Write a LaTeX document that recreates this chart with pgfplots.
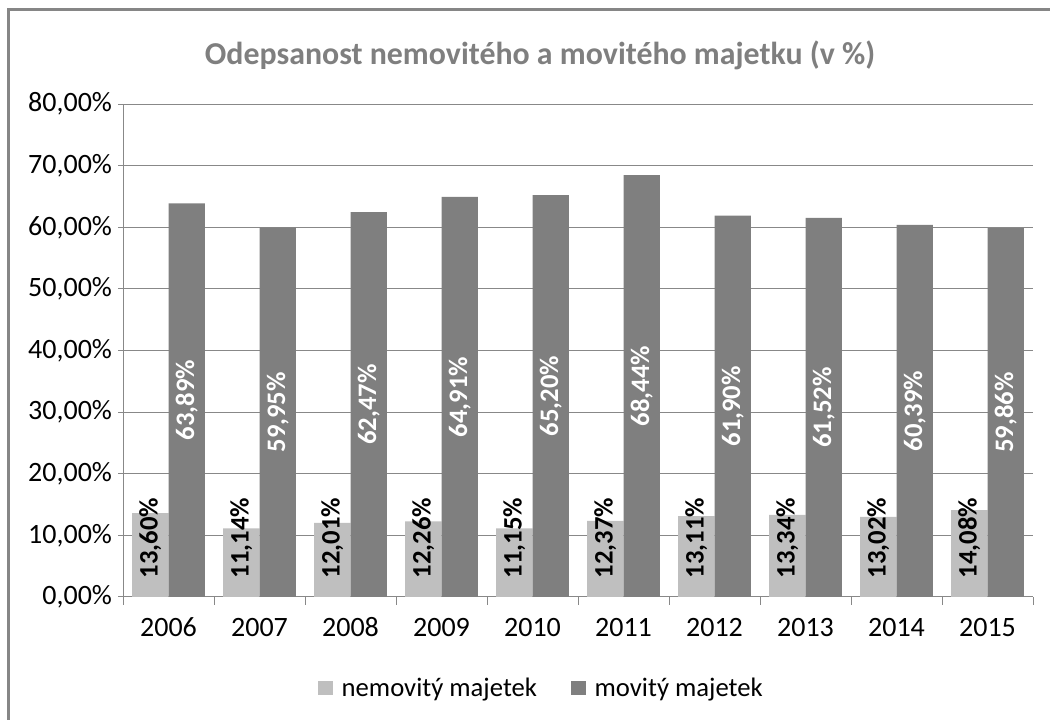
\documentclass[border=0pt]{standalone}
\usepackage{fontspec}
\setmainfont{Carlito}
\usepackage{pgfplots}
\pgfplotsset{compat=1.18}
\usepackage{pgfplotstable}
\definecolor{lightbar}{HTML}{BFBFBF}
\definecolor{darkbar}{HTML}{7F7F7F}
\definecolor{gridc}{HTML}{888888}
\definecolor{titlec}{HTML}{7F7F7F}
\definecolor{framec}{HTML}{868686}

\pgfplotstableread{
x n m
0 13.60 63.89
1 11.14 59.95
2 12.01 62.47
3 12.26 64.91
4 11.15 65.20
5 12.37 68.44
6 13.11 61.90
7 13.34 61.52
8 13.02 60.39
9 14.08 59.86
}\data

\newcommand{\chartfont}{\fontsize{21}{25}\selectfont}
\newcommand{\legendfont}{\fontsize{20}{24}\selectfont}
\newcommand{\labelfont}{\fontsize{20}{24}\selectfont\bfseries}

\begin{document}
\begin{tikzpicture}[x=0.75pt,y=0.75pt]
\useasboundingbox (0,0) rectangle (1050,720);
\draw[framec, line width=2.25pt] (8.5,-20) -- (8.5,710) -- (1080,710);
\node[font=\fontsize{23.9}{28}\selectfont\bfseries, text=titlec] at (540,665) {Odepsanost nemovitého a movitého majetku (v~\%)};
\begin{axis}[
  at={(92.25pt,92.25pt)}, anchor=south west,
  scale only axis, width=682.5pt, height=369.75pt,
  xmin=-0.5, xmax=9.5, ymin=0, ymax=80,
  axis x line*=bottom, axis y line*=left,
  axis line style={gridc, line width=0.75pt, -},
  ytick={0,10,...,80},
  yticklabels={{0,00\%},{10,00\%},{20,00\%},{30,00\%},{40,00\%},{50,00\%},{60,00\%},{70,00\%},{80,00\%}},
  xtick={0,...,9},
  xticklabels={2006,2007,2008,2009,2010,2011,2012,2013,2014,2015},
  minor xtick={-0.5,0.5,...,9.5},
  major x tick style={draw=none},
  minor x tick style={gridc, line width=0.75pt},
  y tick style={gridc, line width=0.75pt},
  tick align=outside,
  major tick length=3.75pt,
  minor tick length=6pt,
  ymajorgrids, grid style={gridc, line width=0.75pt},
  ticklabel style={font=\chartfont, text=black},
  xticklabel style={text height=14pt, text depth=0pt, anchor=north, yshift=-8pt},
  yticklabel style={xshift=-1pt},
  /pgf/number format/assume math mode=true,
  legend style={at={(0.2143,-0.1846)}, anchor=west, draw=none, fill=none,
    legend columns=2, font=\legendfont, inner sep=0pt, outer sep=0pt,
    /tikz/column sep=0pt},
  legend image code/.code={\draw[#1, draw=none] (0pt,-5.6pt) rectangle (11.25pt,5.6pt);},
]
\addplot[ybar, bar width=0.4, bar shift=-0.2, fill=lightbar, draw=none] table[x=x, y=n]{\data};
\addlegendentry{\rule{4.5pt}{0pt}nemovitý majetek\rule{23.5pt}{0pt}}
\addplot[ybar, bar width=0.4, bar shift=0.2, fill=darkbar, draw=none] table[x=x, y=m]{\data};
\addlegendentry{\rule{4.5pt}{0pt}movitý majetek}
\addplot[draw=none, mark=none, forget plot, point meta=explicit,
  nodes near coords={\pgfmathprintnumber[fixed,zerofill,precision=2,use comma]{\pgfplotspointmeta}\%},
  every node near coord/.append style={rotate=90, anchor=center, font=\labelfont, text=black, inner sep=0pt}]
  table[x expr=\thisrow{x}-0.2, y expr=9.57, meta=n]{\data};
\addplot[draw=none, mark=none, forget plot, point meta=explicit,
  nodes near coords={\pgfmathprintnumber[fixed,zerofill,precision=2,use comma]{\pgfplotspointmeta}\%},
  every node near coord/.append style={rotate=90, anchor=center, font=\labelfont, text=white, inner sep=0pt}]
  table[x expr=\thisrow{x}+0.2, y expr=\thisrow{m}/2, meta=m]{\data};
\end{axis}
\end{tikzpicture}
\end{document}
